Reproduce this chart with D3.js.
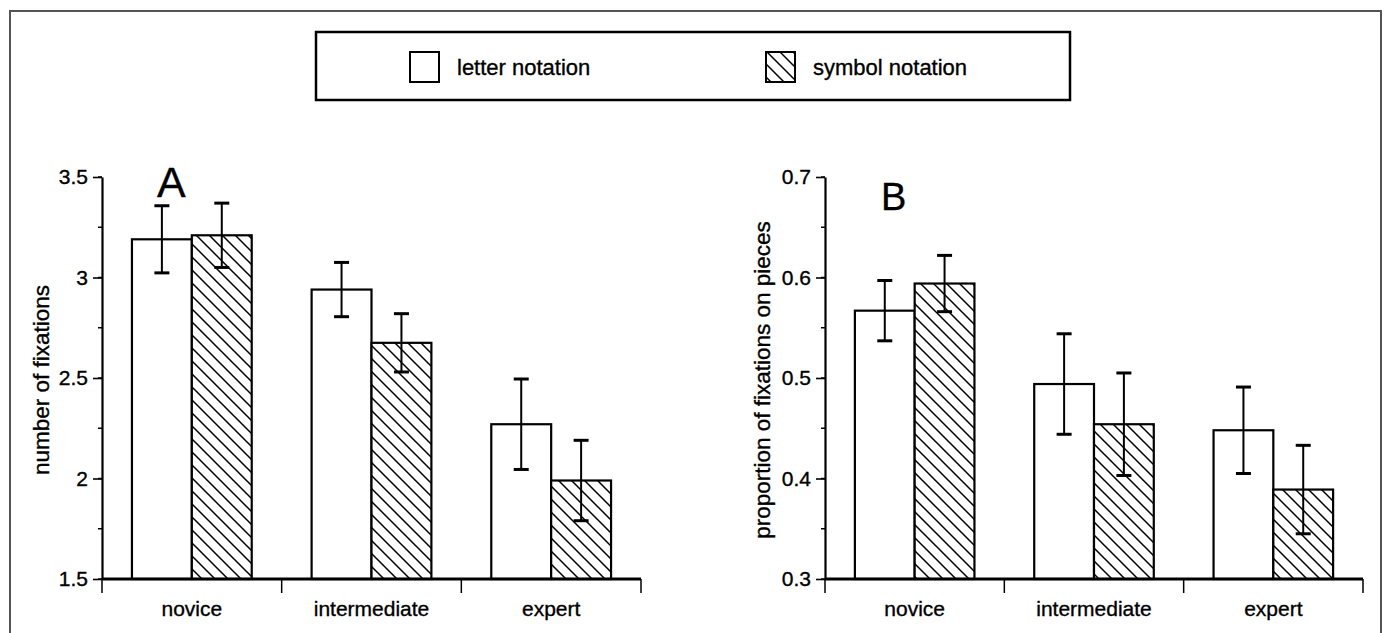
<!DOCTYPE html>
<html>
<head>
<meta charset="utf-8">
<script src="https://cdn.jsdelivr.net/npm/d3@7"></script>
<style>
  body { margin: 0; background: #fff; }
  svg { display: block; font-family: "Liberation Sans", Arial, sans-serif; }
  text { fill: #000; stroke: #000; stroke-width: 0.35px; }
</style>
</head>
<body>
<script>
// values
let categories = ["novice", "intermediate", "expert"];
let seriesNames = ["letter notation", "symbol notation"];

let fixLetter = [3.19, 2.94, 2.27];
let fixLetterErr = [0.167, 0.135, 0.225];
let fixSymbol = [3.21, 2.675, 1.99];
let fixSymbolErr = [0.16, 0.145, 0.2];

let propLetter = [0.567, 0.494, 0.448];
let propLetterErr = [0.03, 0.05, 0.043];
let propSymbol = [0.594, 0.454, 0.389];
let propSymbolErr = [0.028, 0.051, 0.044];

let fixTicks = [1.5, 2, 2.5, 3, 3.5];
let propTicks = [0.3, 0.4, 0.5, 0.6, 0.7];

let w = 1386;
let h = 633;

var svg = d3.select("body")
  .append("svg")
  .attr("width", w)
  .attr("height", h);

svg.append("rect").attr("width", w).attr("height", h).attr("fill", "#fff");

// hatch pattern
var defs = svg.append("defs");
var pat = defs.append("pattern")
  .attr("id", "hatch")
  .attr("patternUnits", "userSpaceOnUse")
  .attr("width", 13)
  .attr("height", 13);
pat.append("rect").attr("width", 13).attr("height", 13).attr("fill", "#fff");
pat.append("path")
  .attr("d", "M-3,-3 L16,16 M-3,10 L3,16 M10,-3 L16,3")
  .attr("stroke", "#000")
  .attr("stroke-width", 1.5);

// page frame
svg.append("path")
  .attr("d", "M10," + h + " V11 H1381 V" + h)
  .attr("fill", "none")
  .attr("stroke", "#555")
  .attr("stroke-width", 2);

// legend
svg.append("rect")
  .attr("x", 316).attr("y", 32)
  .attr("width", 754).attr("height", 68)
  .attr("fill", "none")
  .attr("stroke", "#000")
  .attr("stroke-width", 2.5);

var legendX = [410, 766];
seriesNames.forEach(function(name, i) {
  svg.append("rect")
    .attr("x", legendX[i]).attr("y", 52)
    .attr("width", 29).attr("height", 30)
    .attr("fill", i == 0 ? "#fff" : "url(#hatch)")
    .attr("stroke", "#000")
    .attr("stroke-width", 2);
  svg.append("text")
    .attr("x", legendX[i] + 47).attr("y", 75)
    .attr("font-size", 22)
    .text(name);
});

function drawPanel(opt) {
  var y = d3.scaleLinear().domain(opt.domain).range([579, 177]);
  var x = d3.scaleBand().domain(categories).range([opt.x0, opt.x1]);
  var sub = d3.scaleBand().domain(seriesNames).range([0, x.bandwidth()]).paddingOuter(0.5);
  var g = svg.append("g");

  // minor ticks
  var minor = d3.range(opt.domain[0], opt.domain[1] + 1e-9, opt.step / 2);
  g.selectAll(".minor")
    .data(minor)
    .enter()
    .append("line")
    .attr("x1", opt.x0 - 4).attr("x2", opt.x0)
    .attr("y1", function(d) { return y(d); })
    .attr("y2", function(d) { return y(d); })
    .attr("stroke", "#000")
    .attr("stroke-width", 1.5);

  var yAxis = d3.axisLeft(y)
    .tickValues(opt.ticks)
    .tickSize(9)
    .tickSizeOuter(0)
    .tickPadding(5)
    .tickFormat(d3.format("~g"));
  var ya = g.append("g")
    .attr("transform", "translate(" + opt.x0 + ",0)")
    .call(yAxis);
  ya.select(".domain").attr("stroke-width", 2.2);
  ya.selectAll(".tick line").attr("stroke-width", 1.6);
  ya.selectAll("text")
    .attr("font-size", 21)
    .attr("font-family", "Liberation Sans, Arial, sans-serif")
    .attr("fill", "#000");

  // bars
  var rows = categories.map(function(c, i) {
    return [
      { cat: c, s: seriesNames[0], v: opt.a[i], e: opt.ae[i] },
      { cat: c, s: seriesNames[1], v: opt.b[i], e: opt.be[i] }
    ];
  }).flat();

  g.selectAll(".bar")
    .data(rows)
    .enter()
    .append("rect")
    .attr("x", function(d) { return x(d.cat) + sub(d.s); })
    .attr("y", function(d) { return y(d.v); })
    .attr("width", sub.bandwidth())
    .attr("height", function(d) { return y(opt.domain[0]) - y(d.v); })
    .attr("fill", function(d) { return d.s == seriesNames[0] ? "#fff" : "url(#hatch)"; })
    .attr("stroke", "#000")
    .attr("stroke-width", 2.2);

  // error bars
  var eb = g.selectAll(".err")
    .data(rows)
    .enter()
    .append("g")
    .attr("transform", function(d) { return "translate(" + (x(d.cat) + sub(d.s) + sub.bandwidth() / 2) + ",0)"; });
  eb.append("line")
    .attr("y1", function(d) { return y(d.v + d.e); })
    .attr("y2", function(d) { return y(d.v - d.e); })
    .attr("stroke", "#000").attr("stroke-width", 2);
  eb.append("line")
    .attr("x1", -7.5).attr("x2", 7.5)
    .attr("y1", function(d) { return y(d.v + d.e); })
    .attr("y2", function(d) { return y(d.v + d.e); })
    .attr("stroke", "#000").attr("stroke-width", 3);
  eb.append("line")
    .attr("x1", -7.5).attr("x2", 7.5)
    .attr("y1", function(d) { return y(d.v - d.e); })
    .attr("y2", function(d) { return y(d.v - d.e); })
    .attr("stroke", "#000").attr("stroke-width", 3);

  // x axis with ticks on category boundaries
  var bounds = categories.map(function(c) { return x(c); }).concat([opt.x1]);
  g.append("line")
    .attr("x1", opt.x0).attr("x2", opt.x1)
    .attr("y1", y(opt.domain[0])).attr("y2", y(opt.domain[0]))
    .attr("stroke", "#000").attr("stroke-width", 3);
  g.selectAll(".xt")
    .data(bounds)
    .enter()
    .append("line")
    .attr("x1", function(d) { return d; }).attr("x2", function(d) { return d; })
    .attr("y1", 579).attr("y2", 593)
    .attr("stroke", "#000").attr("stroke-width", 1.5);
  g.selectAll(".xl")
    .data(categories)
    .enter()
    .append("text")
    .attr("x", function(d) { return x(d) + x.bandwidth() / 2; })
    .attr("y", 616)
    .attr("text-anchor", "middle")
    .attr("font-size", 21)
    .text(function(d) { return d; });

  // axis title
  g.append("text")
    .attr("transform", "translate(" + opt.labelX + ",380) rotate(-90)")
    .attr("text-anchor", "middle")
    .attr("font-size", 22.5)
    .text(opt.label);

  // panel letter
  g.append("text")
    .attr("x", opt.letterX).attr("y", opt.letterY)
    .attr("font-size", opt.letterSize)
    .text(opt.letter);
}

drawPanel({
  x0: 102, x1: 641, domain: [1.5, 3.5], step: 0.5, ticks: fixTicks,
  a: fixLetter, ae: fixLetterErr, b: fixSymbol, be: fixSymbolErr,
  label: "number of fixations", labelX: 49,
  letter: "A", letterX: 157, letterY: 197, letterSize: 43
});

drawPanel({
  x0: 825, x1: 1363, domain: [0.3, 0.7], step: 0.1, ticks: propTicks,
  a: propLetter, ae: propLetterErr, b: propSymbol, be: propSymbolErr,
  label: "proportion of fixations on pieces", labelX: 770,
  letter: "B", letterX: 881, letterY: 210, letterSize: 38
});
</script>
</body>
</html>
